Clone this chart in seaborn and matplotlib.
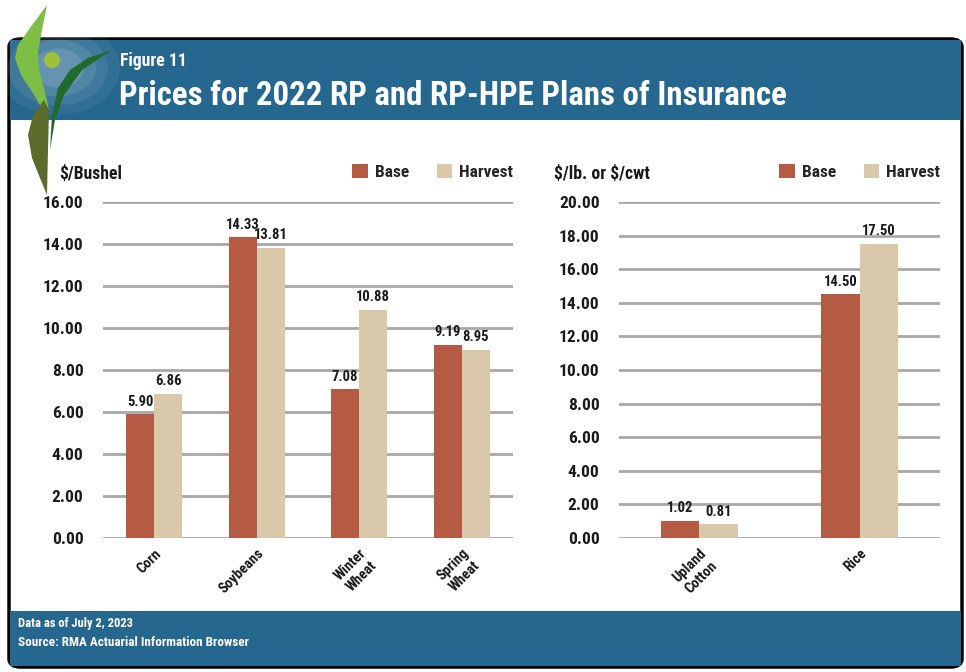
import matplotlib
matplotlib.use("Agg")
import matplotlib.pyplot as plt
import matplotlib.font_manager as fm
import seaborn as sns
import pandas as pd
from matplotlib.patches import FancyBboxPatch, Rectangle, Ellipse, Polygon

# ---- data ----
grain_categories = ["Corn", "Soybeans", "Winter\nWheat", "Spring\nWheat"]
grain_base = [5.90, 14.33, 7.08, 9.19]
grain_harvest = [6.86, 13.81, 10.88, 8.95]
grain_ticks = [0, 2, 4, 6, 8, 10, 12, 14, 16]

other_categories = ["Upland\nCotton", "Rice"]
other_base = [1.02, 14.50]
other_harvest = [0.81, 17.50]
other_ticks = [0, 2, 4, 6, 8, 10, 12, 14, 16, 18, 20]

series_names = ["Base", "Harvest"]
colors = ["#B55A43", "#D9C8AA"]
BLUE = "#26678F"

sns.set_theme(style="white")
names = {f.name for f in fm.fontManager.ttflist}
narrow = sorted({f.name for f in fm.fontManager.ttflist
                 if ("Narrow" in f.name or "Condensed" in f.name)})
chosen = None
for cand in ["Liberation Sans Narrow", "Roboto Condensed", "Open Sans Condensed",
             "Noto Sans Condensed", "DejaVu Sans Condensed"] + narrow:
    if cand in names:
        chosen = cand
        break
if chosen is None:
    chosen = "Liberation Sans" if "Liberation Sans" in names else "DejaVu Sans"
FONT = [chosen, "DejaVu Sans"]
plt.rcParams["font.family"] = FONT
plt.rcParams["font.weight"] = "bold"

W, H = 966, 672
fig = plt.figure(figsize=(W / 100, H / 100), dpi=100)
fig.patch.set_facecolor("white")


def fx(x):
    return x / W


def fy(y):
    return 1 - y / H


def P(pts):
    return [(fx(a), fy(b)) for a, b in pts]


# frame
frame = FancyBboxPatch((fx(9), fy(667)), fx(953), (667 - 39) / H,
                       boxstyle="round,pad=0,rounding_size=0.012",
                       transform=fig.transFigure, facecolor="white",
                       edgecolor="black", linewidth=2.5, zorder=0)
fig.patches.append(frame)
fig.patches.append(Rectangle((fx(10), fy(120)), fx(951), 80 / H,
                             transform=fig.transFigure, facecolor=BLUE,
                             edgecolor="none", zorder=1))
fig.patches.append(Rectangle((fx(10), fy(666)), fx(951), 55 / H,
                             transform=fig.transFigure, facecolor=BLUE,
                             edgecolor="none", zorder=1))
# soft glow behind logo
for r, a in [(62, 0.06), (50, 0.07), (38, 0.09), (26, 0.12)]:
    fig.patches.append(Ellipse((fx(58), fy(68)), r * 2 / W, r * 1.5 / H,
                               transform=fig.transFigure, facecolor="white",
                               alpha=a, edgecolor="none", zorder=2))
# logo
fig.patches.append(Polygon(P([(47, 5), (30, 28), (18, 45), (15, 58), (21, 75),
                              (34, 95), (44, 112), (49, 110), (45, 92), (39, 70),
                              (38, 52), (42, 30)]),
                           closed=True, transform=fig.transFigure,
                           facecolor="#7DBE45", edgecolor="none", zorder=3))
fig.patches.append(Polygon(P([(44, 100), (33, 115), (28, 135), (32, 158), (40, 178),
                              (47, 195), (48, 150), (49, 110)]),
                           closed=True, transform=fig.transFigure,
                           facecolor="#5A6B2C", edgecolor="none", zorder=3))
fig.patches.append(Polygon(P([(112, 50), (88, 58), (70, 70), (58, 88), (52, 115),
                              (50, 150), (55, 120), (64, 95), (82, 70)]),
                           closed=True, transform=fig.transFigure,
                           facecolor="#1F6B2E", edgecolor="none", zorder=3))
fig.patches.append(Ellipse((fx(52), fy(60)), 16 / W, 16 / H,
                           transform=fig.transFigure, facecolor="#9CC23A",
                           edgecolor="none", zorder=4))

renderer = fig.canvas.get_renderer()


def fit_text(x, y, s, target_w, size, **kw):
    t = fig.text(x, y, s, fontsize=size, **kw)
    w = t.get_window_extent(renderer).width
    if w > 0:
        t.set_fontsize(size * target_w / w)
    return t


fit_text(fx(120), fy(61), "Figure 11", 67, 14, color="white", fontweight="bold",
         va="center", ha="left", zorder=5)
fit_text(fx(119), fy(96), "Prices for 2022 RP and RP-HPE Plans of Insurance", 668, 25,
         color="white", fontweight="bold", va="center", ha="left", zorder=5)
fit_text(fx(18), fy(624), "Data as of July 2, 2023", 115, 10, color="white",
         fontweight="bold", va="center", ha="left", zorder=5)
fit_text(fx(18), fy(643), "Source: RMA Actuarial Information Browser", 230, 10,
         color="white", fontweight="bold", va="center", ha="left", zorder=5)


def make_panel(rect, cats, base, harv, ticks, ylabel, ylabel_x, ylabel_w, width):
    ax = fig.add_axes(rect)
    ax.set_zorder(10)
    df = pd.DataFrame({
        "cat": cats * 2,
        "value": base + harv,
        "series": [series_names[0]] * len(cats) + [series_names[1]] * len(cats),
    })
    sns.barplot(data=df, x="cat", y="value", hue="series", palette=colors,
                width=width, ax=ax, saturation=1, legend=True, zorder=3,
                linewidth=0, edgecolor="none")
    for c in ax.containers:
        ax.bar_label(c, fmt="%.2f", padding=4, fontsize=10.5, fontweight="bold",
                     color="#1a1a1a")
    ax.set_ylim(ticks[0], ticks[-1])
    ax.set_yticks(ticks)
    ax.set_yticklabels([f"{t:.2f}" for t in ticks], fontsize=12.5, fontweight="bold",
                       color="#1a1a1a")
    ax.set_xlim(-0.5, len(cats) - 0.5)
    ax.grid(axis="y", color="#A8A8A8", linewidth=2)
    ax.set_axisbelow(True)
    for s in ax.spines.values():
        s.set_visible(False)
    ax.tick_params(axis="y", length=0, pad=14)
    ax.tick_params(axis="x", length=0, pad=6)
    ax.set_xticks(range(len(cats)))
    ax.set_xticklabels(cats, rotation=45, ha="right", rotation_mode="anchor",
                       fontsize=10.5, fontweight="bold", multialignment="center",
                       color="#1a1a1a")
    ax.set_xlabel("")
    ax.set_ylabel("")
    ax.set_facecolor("none")
    ax.legend(loc="lower right", bbox_to_anchor=(1.0, 1.065), ncol=2, frameon=False,
              handlelength=0.9, handleheight=0.9, handletextpad=0.4,
              columnspacing=1.6, borderaxespad=0, borderpad=0,
              prop={"family": FONT, "weight": "bold", "size": 12.5})
    fit_text(fx(ylabel_x), fy(174), ylabel, ylabel_w, 12.5, fontweight="bold",
             va="center", ha="left", color="#1a1a1a")
    return ax


make_panel([fx(103), fy(538), (513 - 103) / W, (538 - 202) / H],
           grain_categories, grain_base, grain_harvest, grain_ticks,
           r"\$/Bushel", 59, 63, 0.55)
make_panel([fx(619), fy(538), (940 - 619) / W, (538 - 202) / H],
           other_categories, other_base, other_harvest, other_ticks,
           r"\$/lb. or \$/cwt", 554, 96, 0.48)

fig.savefig("out.png", dpi=100, facecolor="white")
